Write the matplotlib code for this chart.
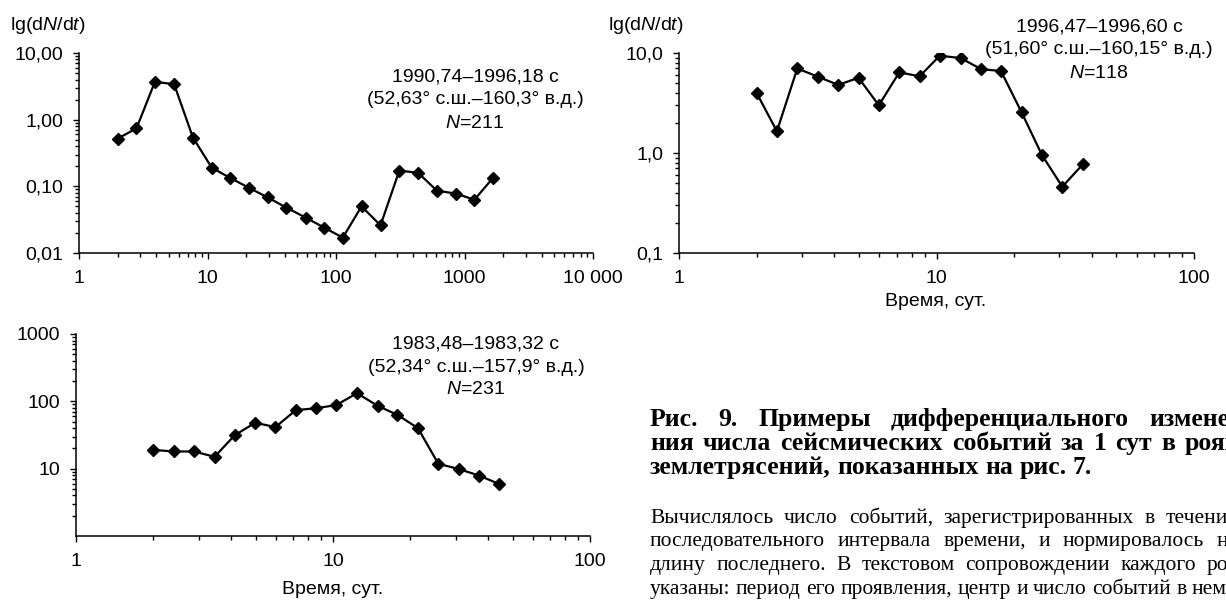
import matplotlib
matplotlib.use("Agg")
import matplotlib.pyplot as plt
from matplotlib.ticker import LogLocator, NullFormatter

plt.rcParams['font.family'] = ['Liberation Sans', 'DejaVu Sans']
plt.rcParams['mathtext.fontset'] = 'custom'
plt.rcParams['mathtext.rm'] = 'Liberation Sans'
plt.rcParams['mathtext.it'] = 'Liberation Sans:italic'

# panel A: 1990,74-1996,18
t_a = [2.0, 2.8, 3.9, 5.5, 7.7, 10.8, 15.1, 21, 29.5, 41, 58, 81, 113, 158, 222,
       311, 435, 610, 853, 1195, 1673]
n_a = [0.52, 0.74, 3.7, 3.4, 0.54, 0.19, 0.133, 0.095, 0.068, 0.048, 0.034,
       0.024, 0.017, 0.050, 0.026, 0.172, 0.160, 0.086, 0.078, 0.063, 0.135]

# panel B: 1996,47-1996,60
t_b = [2.0, 2.4, 2.88, 3.46, 4.15, 4.98, 5.97, 7.17, 8.6, 10.3, 12.4, 14.9,
       17.8, 21.4, 25.7, 30.8, 37.0]
n_b = [4.0, 1.65, 7.0, 5.8, 4.8, 5.65, 3.0, 6.4, 5.85, 9.4, 8.9, 6.9, 6.6,
       2.55, 0.95, 0.46, 0.77]

# panel C: 1983,48-1983,32
t_c = [2.0, 2.4, 2.88, 3.46, 4.15, 4.98, 5.97, 7.17, 8.6, 10.3, 12.4, 14.9,
       17.8, 21.4, 25.7, 30.8, 37.0, 44.4]
n_c = [19, 18, 18, 15, 31.5, 48, 41.5, 74, 79, 88, 132, 86, 63, 40, 11.8,
       9.9, 7.9, 5.9]

yt_a = [0.01, 0.1, 1, 10]
yl_a = ['0,01', '0,10', '1,00', '10,00']
xt_a = [1, 10, 100, 1000, 10000]
xl_a = ['1', '10', '100', '1000', '10 000']
yt_b = [0.1, 1, 10]
yl_b = ['0,1', '1,0', '10,0']
yt_c = [10, 100, 1000]
yl_c = ['10', '100', '1000']
xt_bc = [1, 10, 100]
xl_bc = ['1', '10', '100']

notes_a = ['1990,74–1996,18 с', '(52,63° с.ш.–160,3° в.д.)', '$\\mathit{N}$=211']
notes_b = ['1996,47–1996,60 с', '(51,60° с.ш.–160,15° в.д.)', '$\\mathit{N}$=118']
notes_c = ['1983,48–1983,32 с', '(52,34° с.ш.–157,9° в.д.)', '$\\mathit{N}$=231']

FS = 14
W, H = 1226, 601
fig = plt.figure(figsize=(W / 100, H / 100), dpi=100)


def box(x0, y0, x1, y1):
    return [x0 / W, 1 - y1 / H, (x1 - x0) / W, (y1 - y0) / H]


def setup(ax, t, n, xlim, ylim, xt, xl, yt, yl):
    ax.plot(t, n, color='black', lw=1.6, marker='D', ms=6,
            markerfacecolor='black', markeredgecolor='black')
    ax.set_xscale('log')
    ax.set_yscale('log')
    ax.set_xlim(*xlim)
    ax.set_ylim(*ylim)
    ax.set_xticks(xt, xl)
    ax.set_yticks(yt, yl)
    ax.xaxis.set_minor_locator(LogLocator(base=10, subs=range(2, 10)))
    ax.yaxis.set_minor_locator(LogLocator(base=10, subs=range(2, 10)))
    ax.xaxis.set_minor_formatter(NullFormatter())
    ax.yaxis.set_minor_formatter(NullFormatter())
    ax.spines['top'].set_visible(False)
    ax.spines['right'].set_visible(False)
    for s in ('left', 'bottom'):
        ax.spines[s].set_linewidth(1.1)
    ax.tick_params(which='major', length=4.5, width=1.0, labelsize=FS,
                   direction='out')
    ax.tick_params(which='minor', length=2.8, width=1.0, direction='out')
    ax.tick_params(axis='x', which='major', pad=7.5)
    ax.tick_params(axis='y', which='major', pad=7)


ax1 = fig.add_axes(box(79, 53, 593, 253))
setup(ax1, t_a, n_a, (1, 10000), (0.01, 10), xt_a, xl_a, yt_a, yl_a)
ax2 = fig.add_axes(box(679, 53, 1194, 253))
setup(ax2, t_b, n_b, (1, 100), (0.1, 10), xt_bc, xl_bc, yt_b, yl_b)
ax3 = fig.add_axes(box(76, 334, 590, 536))
setup(ax3, t_c, n_c, (1, 100), (1, 1000), xt_bc, xl_bc, yt_c, yl_c)


def px(x, y):
    return x / W, 1 - y / H


for ax_x in (10, 608):
    fig.text(*px(ax_x, 25), 'lg(d$\\mathit{N}$/d$\\mathit{t}$)', fontsize=FS,
             ha='left', va='center')

for notes, cx, ys in ((notes_a, 475, (77, 100, 123)),
                      (notes_b, 1099, (27, 50, 73)),
                      (notes_c, 476, (344, 367, 390))):
    for s, yy in zip(notes, ys):
        fig.text(*px(cx, yy), s, fontsize=FS, ha='center', va='center')

fig.text(*px(936, 302), 'Время, сут.', fontsize=FS, ha='center', va='center')
fig.text(*px(333, 589), 'Время, сут.', fontsize=FS, ha='center', va='center')

# caption, justified like the journal column (runs past the right edge)
renderer = fig.canvas.get_renderer()
left, right = 650, 1238


def line(words, y, justify=True, **kw):
    items = [fig.text(0, 0, w, family=['Liberation Serif', 'DejaVu Serif'],
                      va='baseline', ha='left', **kw) for w in words]
    widths = [it.get_window_extent(renderer).width for it in items]
    space = items[0].get_fontsize() * 0.25 * 100 / 72
    if justify and len(words) > 1:
        space = (right - left - sum(widths)) / (len(words) - 1)
    x = left
    for it, w in zip(items, widths):
        it.set_position(px(x, y))
        x += w + space


bold = [('Рис. 9. Примеры дифференциального измене-', True),
        ('ния числа сейсмических событий за 1 сут в роях', True),
        ('землетрясений, показанных на рис. 7.', False)]
plain = [('Вычислялось число событий, зарегистрированных в течение', True),
         ('последовательного интервала времени, и нормировалось на', True),
         ('длину последнего. В текстовом сопровождении каждого роя', True),
         ('указаны: период его проявления, центр и число событий в нем.', False)]

for (s, j), y in zip(bold, (426, 450, 474)):
    line(s.split(' '), y, j, fontsize=18.5, fontweight='bold')
for (s, j), y in zip(plain, (523, 546, 570, 594)):
    line(s.split(' '), y, j, fontsize=15.5)

fig.savefig('out.png', dpi=100)
